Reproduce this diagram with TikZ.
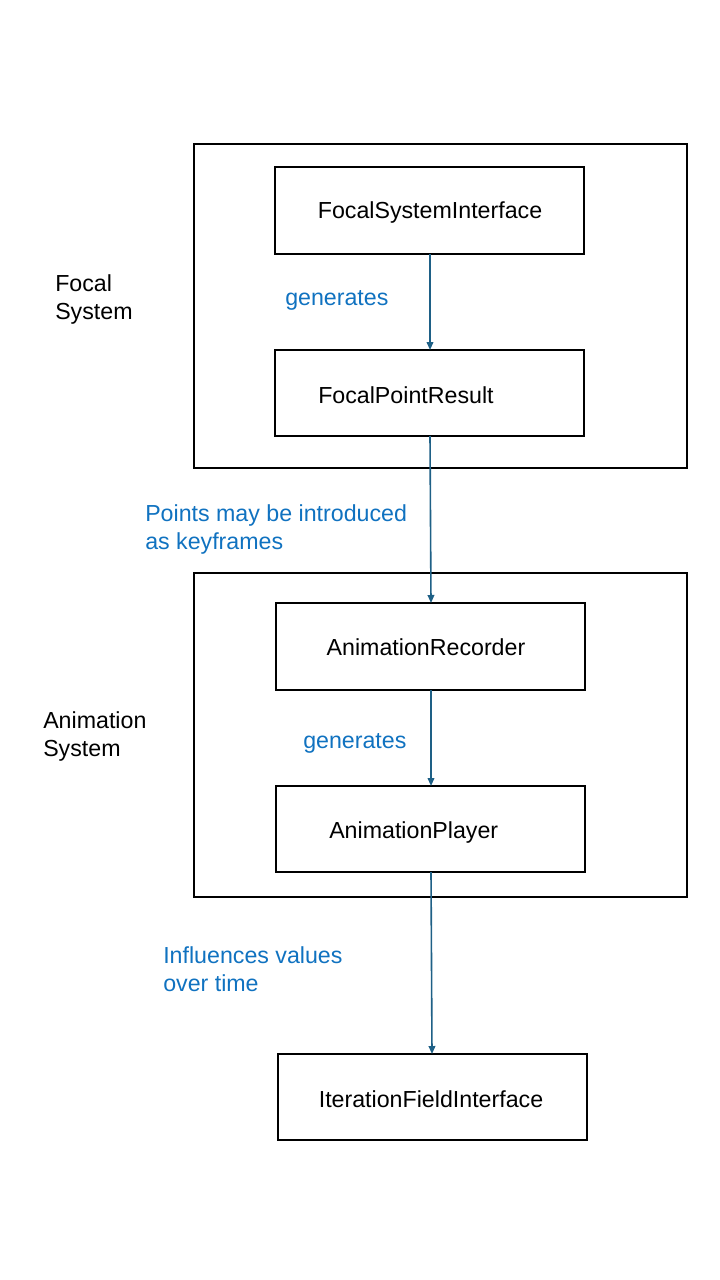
\documentclass[tikz,border=0pt]{standalone}
\usepackage{fontspec}
\setmainfont{Liberation Sans}
\usetikzlibrary{arrows.meta}
\definecolor{lblblue}{RGB}{16,114,192}
\definecolor{arrblue}{RGB}{30,96,134}
\tikzset{
  outerbox/.style={draw=black, line width=1.5pt},
  compbox/.style={draw=black, line width=1.5pt},
  txt/.style={font=\fontsize{17.4}{21}\selectfont, inner sep=0pt},
  lbl/.style={font=\fontsize{17.4}{21}\selectfont, text=lblblue, inner sep=0pt, align=left, anchor=west},
  grp/.style={font=\fontsize{17.4}{21}\selectfont, text=black, inner sep=0pt, align=left, anchor=west},
  conn/.style={draw=arrblue, line width=1.2pt, -{Triangle[length=6pt,width=5pt]}},
}
\begin{document}
\begin{tikzpicture}[x=0.75pt,y=-0.75pt]
\useasboundingbox (0,0) rectangle (720,1280);
% outer boxes
\draw[outerbox] (194,144) rectangle (687,468);
\draw[outerbox] (194,573) rectangle (687,897);
% component boxes
\draw[compbox] (275,167) rectangle (584,254);
\draw[compbox] (275,350) rectangle (584,436);
\draw[compbox] (276,603) rectangle (585,690);
\draw[compbox] (276,786) rectangle (585,872);
\draw[compbox] (278,1054) rectangle (587,1140);
% anchors for connectors
\coordinate (fsiB) at (430,254);
\coordinate (fprT) at (430,350);
\coordinate (fprB) at (430,436);
\coordinate (arT) at (431,603);
\coordinate (arB) at (431,690);
\coordinate (apT) at (431,786);
\coordinate (apB) at (431,872);
\coordinate (ifiT) at (432,1054);
% texts
\node[txt] (fsi) at (430,213) {FocalSystemInterface};
\node[txt, anchor=west] (fpr) at (318,395) {FocalPointResult};
\node[txt] (ar) at (426,647) {AnimationRecorder};
\node[txt, anchor=west] (ap) at (329,832) {AnimationPlayer};
\node[txt] (ifi) at (431,1099) {IterationFieldInterface};
\node[grp] (fs) at (55,300) {Focal\\System};
\node[grp] (as) at (43,736) {Animation\\System};
\node[lbl] (l1) at (285,300) {generates};
\node[lbl] (l2) at (145,529) {Points may be introduced\\as keyframes};
\node[lbl] (l3) at (303,743) {generates};
\node[lbl] (l4) at (163,969) {Influences values\\over time};
% connectors
\draw[conn] (fsiB) -- (fprT);
\draw[conn] (fprB) -- (arT);
\draw[conn] (arB) -- (apT);
\draw[conn] (apB) -- (ifiT);
\end{tikzpicture}
\end{document}
